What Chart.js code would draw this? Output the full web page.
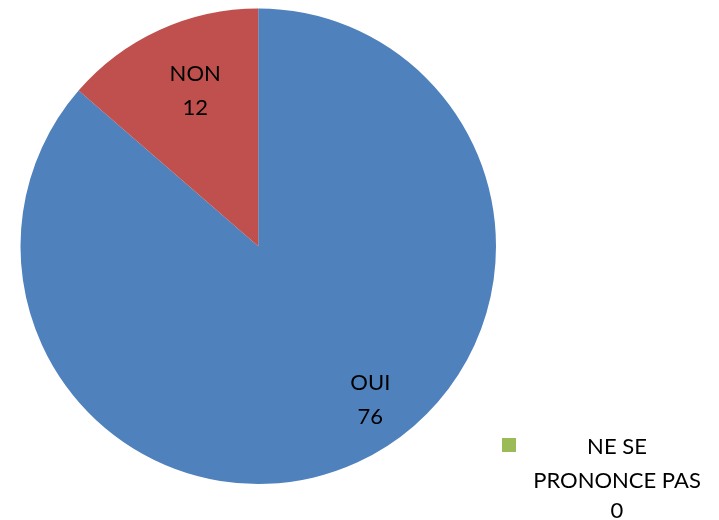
<!DOCTYPE html>
<html>
<head>
<meta charset="utf-8">
<script src="https://cdn.jsdelivr.net/npm/chart.js@4/dist/chart.umd.min.js"></script>
<style>
  html, body { margin: 0; padding: 0; background: #ffffff; }
  #wrap { width: 719px; height: 520px; position: relative; }
</style>
</head>
<body>
<div id="wrap"><canvas id="c" width="719" height="520"></canvas></div>
<script>
const categories = ['OUI', 'NON', 'NE SE PRONONCE PAS'];
const values = [76, 12, 0];
const legendLines = [['NE SE', 'PRONONCE PAS']];
const colors = ['#4F81BD', '#C0504D', '#9BBB59'];

const FONT = '22px Lato, "Liberation Sans", Arial, sans-serif';

// label placement inside slices: fraction of radius, angle (deg clockwise from top)
const labelPlacement = [
  { frac: 0.80, angle: 143.9 },
  { frac: 0.705, angle: 337.9 },
  null
];

const labelsPlugin = {
  id: 'sliceLabels',
  afterDatasetsDraw(chart) {
    const ctx = chart.ctx;
    const meta = chart.getDatasetMeta(0);
    ctx.save();
    ctx.font = FONT;
    ctx.fillStyle = '#000000';
    ctx.textAlign = 'center';
    ctx.textBaseline = 'alphabetic';
    meta.data.forEach((arc, i) => {
      const p = labelPlacement[i];
      if (!p || values[i] === 0) return;
      const r = arc.outerRadius * p.frac;
      const a = p.angle * Math.PI / 180;
      const cx = arc.x + r * Math.sin(a);
      const cy = arc.y - r * Math.cos(a);
      ctx.fillText(chart.data.labels[i], cx, cy - 17 + 7.5);
      ctx.fillText(String(chart.data.datasets[0].data[i]), cx, cy + 17 + 7.5);
    });
    ctx.restore();
  }
};

const legendPlugin = {
  id: 'customLegend',
  afterDraw(chart) {
    const ctx = chart.ctx;
    ctx.save();
    const idx = 2;
    ctx.fillStyle = chart.data.datasets[0].backgroundColor[idx];
    ctx.fillRect(502, 438, 14, 14);
    ctx.font = FONT;
    ctx.fillStyle = '#000000';
    ctx.textAlign = 'center';
    ctx.textBaseline = 'alphabetic';
    const lines = legendLines[0].concat([String(chart.data.datasets[0].data[idx])]);
    const baselines = [454, 488, 518];
    lines.forEach((t, k) => ctx.fillText(t, 617, baselines[k]));
    ctx.restore();
  }
};

new Chart(document.getElementById('c'), {
  type: 'pie',
  data: {
    labels: categories,
    datasets: [{
      data: values,
      backgroundColor: colors,
      borderWidth: 0
    }]
  },
  options: {
    responsive: false,
    animation: false,
    layout: { padding: { left: 20.5, top: 8.5, right: 223, bottom: 36 } },
    plugins: {
      legend: { display: false },
      tooltip: { enabled: false }
    }
  },
  plugins: [labelsPlugin, legendPlugin]
});
</script>
</body>
</html>
